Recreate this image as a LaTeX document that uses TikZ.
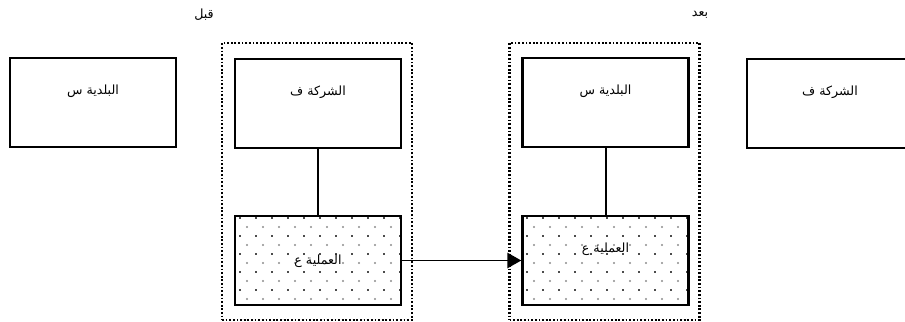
\documentclass[tikz,border=0pt]{standalone}
\usepackage{fontspec}
\usepackage{xcolor}
\usetikzlibrary{arrows.meta}
\newfontfamily\arabicfont[Script=Arabic]{DejaVu Sans}
\TeXXeTstate=1

\begin{document}
\begin{tikzpicture}[
        x=0.3mm, y=-0.3mm,
        box/.style={rectangle, draw, line width=2.1pt, minimum width=166*0.3mm, minimum height=89*0.3mm, inner sep=0pt},
        group/.style={rectangle, draw, line width=1.8pt, dash pattern=on 1.5pt off 1.6pt, minimum width=190*0.3mm, minimum height=277*0.3mm, inner sep=0pt},
        txt/.style={font=\arabicfont\fontsize{10.8}{12}\selectfont, inner sep=1pt},
        bigdot/.style={fill=black!45},
        smalldot/.style={fill=black!70},
        link/.style={line width=1.7pt}
    ]

        \useasboundingbox (0,0) rectangle (905,322);

        % Labels
        \node[txt] (before_lbl) at (204,15) {\beginR قبل\endR};
        \node[txt] (after_lbl) at (700,15) {\beginR بعد\endR};

        % Before: city apart, company owns the process
        \node[box] (before_city) at (93,102.5) {};
        \node[txt] (before_city_txt) at (93,91) {\beginR البلدية س\endR};

        \node[group] (before_group) at (317,181.5) {};
        \node[box] (before_company) at (318,103.5) {};
        \node[txt] (before_company_txt) at (318,92) {\beginR الشركة ف\endR};
        \node[box] (before_process) at (318,260.5) {};

        % After: city owns the process, company apart
        \node[group] (after_group) at (604.5,181.5) {};
        \node[box] (after_city) at (605.5,102.5) {};
        \node[txt] (after_city_txt) at (605.5,91) {\beginR البلدية س\endR};
        \node[box] (after_process) at (605.5,260.5) {};

        \node[box] (after_company) at (830,103.5) {};
        \node[txt] (after_company_txt) at (830,92) {\beginR الشركة ف\endR};

        % dotted fill of the process boxes
        \foreach \bx in {235,522} {
            \begin{scope}
                \clip (\bx,215) rectangle (\bx+166,306);
                \foreach \i in {0,...,10} {
                    \foreach \j in {0,...,5} {
                        \fill[smalldot] (\bx+3.5+16*\i,217.5+18*\j) rectangle ++(2,1.3);
                        \fill[bigdot] (\bx+12+16*\i,227+18*\j) circle (0.36mm);
                    }
                }
            \end{scope}
        }
        \node[box] (before_process_b) at (before_process) {};
        \node[box] (after_process_b) at (after_process) {};

        \node[txt] (before_process_txt) at (318,261) {\beginR العملية ع\endR};
        \node[txt] (after_process_txt) at (605.5,249) {\beginR العملية ع\endR};

        \draw[link] (before_company) -- (before_process);
        \draw[link] (after_city) -- (after_process);
        \draw[link, -{Triangle[length=4.2mm, width=4.6mm]}] (before_process) -- (after_process);

    \end{tikzpicture}
\end{document}
